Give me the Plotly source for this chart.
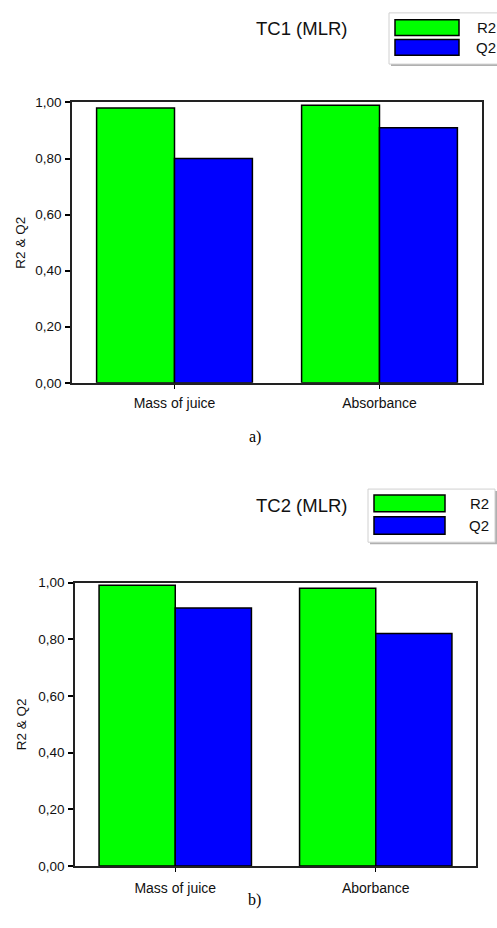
import plotly.graph_objects as go

categories_a = ["Mass of juice", "Absorbance"]
r2_a = [0.98, 0.99]
q2_a = [0.80, 0.91]

categories_b = ["Mass of juice", "Aborbance"]
r2_b = [0.99, 0.98]
q2_b = [0.91, 0.82]

y_ticks = [0.0, 0.2, 0.4, 0.6, 0.8, 1.0]
y_ticktext = ["0,00", "0,20", "0,40", "0,60", "0,80", "1,00"]
titles = ["TC1 (MLR)", "TC2 (MLR)"]
captions = ["a)", "b)"]
series_names = ["R2", "Q2"]

W, H = 497, 928
GREEN = "#00FF00"
BLUE = "#0000FF"
FONT = "Arial"

def px(x):
    return x / W

def py(y):
    return 1 - y / H

fig = go.Figure()
fig.add_bar(x=categories_a, y=r2_a, name="R2", marker=dict(color=GREEN, line=dict(color="black", width=1.5)), xaxis="x", yaxis="y", showlegend=False)
fig.add_bar(x=categories_a, y=q2_a, name="Q2", marker=dict(color=BLUE, line=dict(color="black", width=1.5)), xaxis="x", yaxis="y", showlegend=False)
fig.add_bar(x=categories_b, y=r2_b, name="R2", marker=dict(color=GREEN, line=dict(color="black", width=1.5)), xaxis="x2", yaxis="y2", showlegend=False)
fig.add_bar(x=categories_b, y=q2_b, name="Q2", marker=dict(color=BLUE, line=dict(color="black", width=1.5)), xaxis="x2", yaxis="y2", showlegend=False)

panels = [
    dict(x0=72, x1=482, y0=97, y1=382),
    dict(x0=75, x1=476, y0=585, y1=873),
]

axis_common_x = dict(
    showline=True, linecolor="#222222", linewidth=1.5, mirror=True,
    ticks="outside", ticklen=4, tickcolor="black", tickwidth=1,
    showgrid=False, zeroline=False, range=[-0.5, 1.5],
    tickfont=dict(family=FONT, size=14, color="#111111"),
)
axis_common_y = dict(
    showline=True, linecolor="#222222", linewidth=1.5, mirror=True,
    ticks="outside", ticklen=5, tickcolor="black", tickwidth=1.5,
    showgrid=False, zeroline=False, range=[0, 1.0],
    tickvals=y_ticks, ticktext=y_ticktext,
    tickfont=dict(family=FONT, size=13.5, color="#111111"),
    ticklabelstandoff=1,
)

p = panels[0]
fig.update_layout(
    xaxis=dict(domain=[px(p["x0"]), px(p["x1"])], anchor="y", ticklabelstandoff=3, **axis_common_x),
    yaxis=dict(domain=[py(p["y1"]), py(p["y0"])], anchor="x", **axis_common_y),
)
p = panels[1]
fig.update_layout(
    xaxis2=dict(domain=[px(p["x0"]), px(p["x1"])], anchor="y2", ticklabelstandoff=5, **axis_common_x),
    yaxis2=dict(domain=[py(p["y1"]), py(p["y0"])], anchor="x2", **axis_common_y),
)

annotations = []
shapes = []

# y-axis titles
for p in panels:
    annotations.append(dict(
        text="R2 & Q2", textangle=-90, xref="paper", yref="paper",
        x=px(21), y=py((p["y0"] + p["y1"]) / 2), showarrow=False,
        xanchor="center", yanchor="middle",
        font=dict(family=FONT, size=13.5, color="#111111"),
    ))

# chart titles
title_pos = [(301, 22), (301, 507)]
for t, (tx, ty) in zip(titles, title_pos):
    annotations.append(dict(
        text=t, xref="paper", yref="paper", x=px(tx), y=py(ty),
        xanchor="center", yanchor="middle",
        showarrow=False, font=dict(family=FONT, size=18.5, color="#111111"),
    ))

# captions
cap_pos = [(255, 437), (254, 908)]
for c, (cx, cy) in zip(captions, cap_pos):
    annotations.append(dict(
        text=c, xref="paper", yref="paper", x=px(cx), y=py(cy),
        xanchor="center", yanchor="middle",
        showarrow=False, font=dict(family="Liberation Serif, Times New Roman, serif", size=16, color="black"),
    ))

# legends (drawn)
legends = [
    dict(bx0=389, bx1=500, by0=6, by1=58, rx0=395, rx1=459, rows=[(13, 29), (33, 49)], tx=486),
    dict(bx0=368, bx1=495, by0=490, by1=544, rx0=374, rx1=445, rows=[(496, 513), (518, 536)], tx=479),
]
colors = [GREEN, BLUE]
for lg in legends:
    # shadow
    shapes.append(dict(type="rect", xref="paper", yref="paper",
                       x0=px(lg["bx0"] + 2), x1=px(lg["bx1"] + 2), y0=py(lg["by1"] + 2), y1=py(lg["by0"] + 2),
                       line=dict(width=0), fillcolor="#b0b0b0", layer="above"))
    shapes.append(dict(type="rect", xref="paper", yref="paper",
                       x0=px(lg["bx0"]), x1=px(lg["bx1"]), y0=py(lg["by1"]), y1=py(lg["by0"]),
                       line=dict(color="#d0d0d0", width=1), fillcolor="white", layer="above"))
    for (r0, r1), col, nm in zip(lg["rows"], colors, series_names):
        shapes.append(dict(type="rect", xref="paper", yref="paper",
                           x0=px(lg["rx0"]), x1=px(lg["rx1"]), y0=py(r1), y1=py(r0),
                           line=dict(color="black", width=1.5), fillcolor=col, layer="above"))
        annotations.append(dict(
            text=nm, xref="paper", yref="paper", x=px(lg["tx"]), y=py((r0 + r1) / 2),
            xanchor="center", yanchor="middle",
            showarrow=False, font=dict(family=FONT, size=15, color="#111111"),
        ))

fig.update_layout(
    width=W, height=H,
    margin=dict(l=0, r=0, t=0, b=0),
    paper_bgcolor="white", plot_bgcolor="white",
    barmode="group", bargap=0.24, bargroupgap=0,
    annotations=annotations, shapes=shapes,
    showlegend=False,
)

fig.write_html("out.html")
